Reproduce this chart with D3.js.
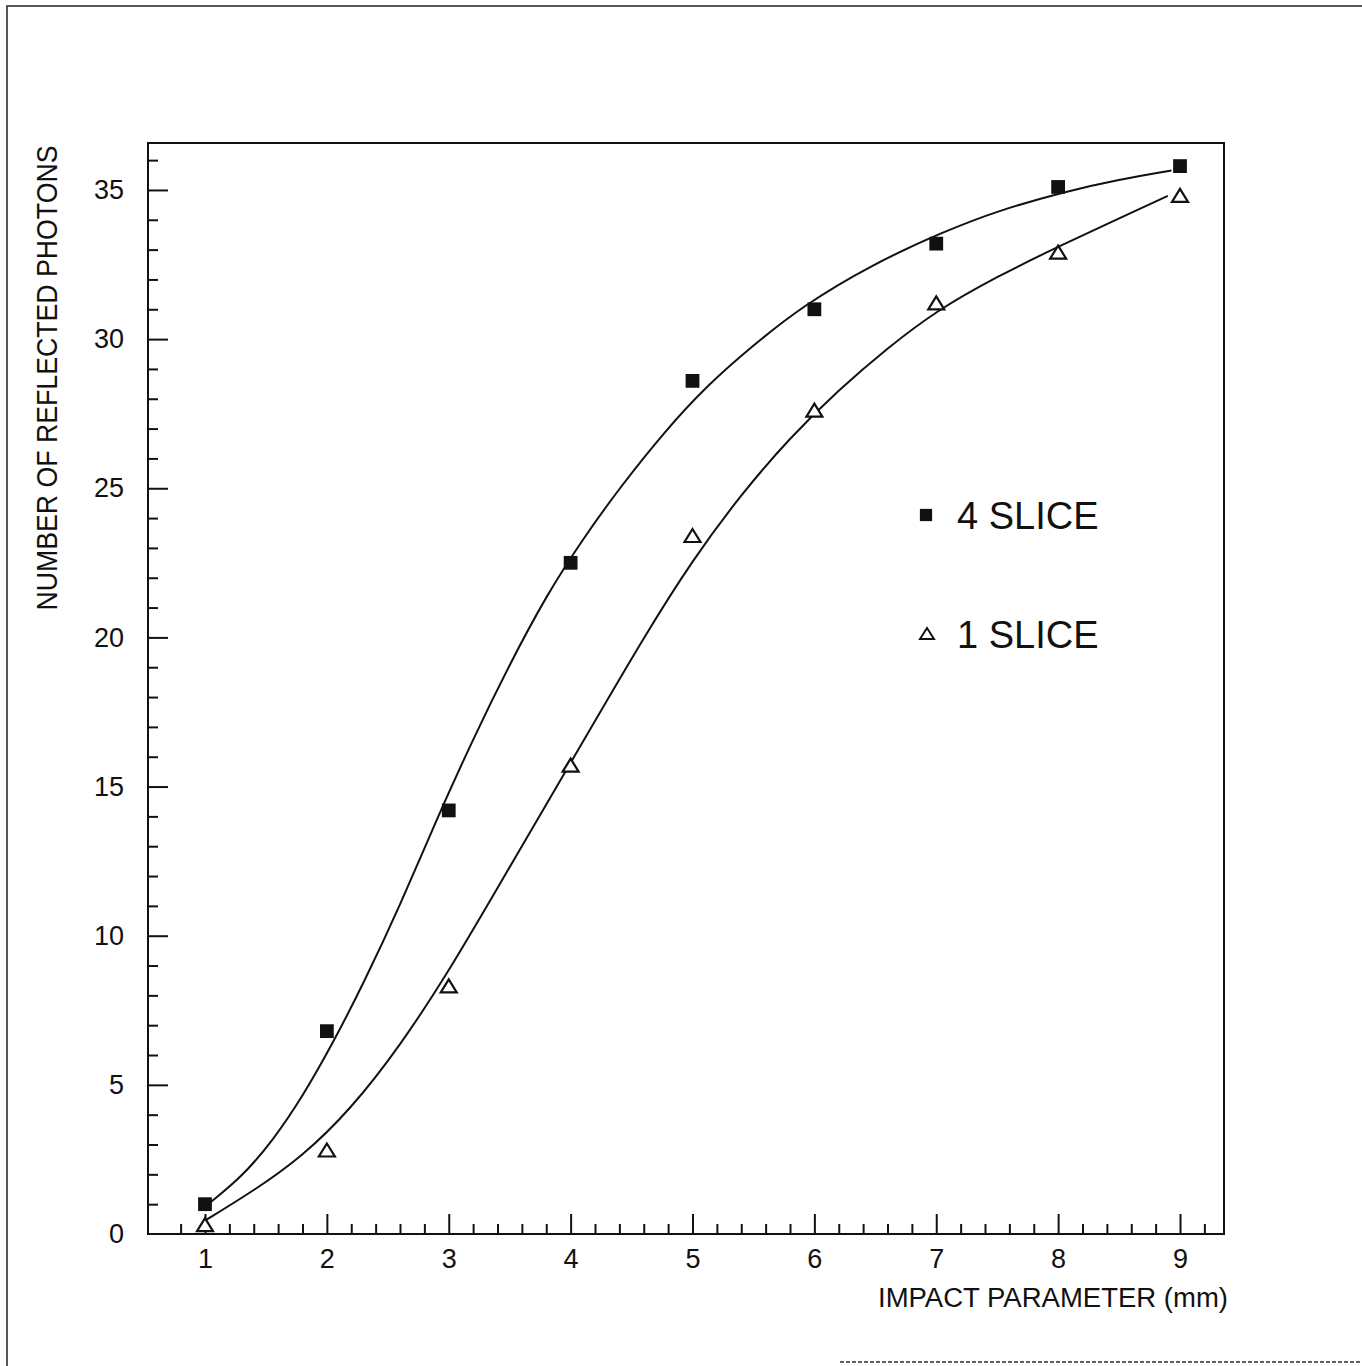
<!DOCTYPE html>
<meta charset="utf-8">
<style>
body { margin: 0; background: #fff; }
text { font-family: "Liberation Sans", Arial, sans-serif; fill: #111; }
.frame { fill: none; stroke: #111; stroke-width: 2; }
.fit { fill: none; stroke: #111; stroke-width: 2; }
.tick line { stroke: #111; stroke-width: 2; }
</style>
<svg width="1362" height="1366"></svg>
<script src="https://d3js.org/d3.v7.min.js"></script>
<script>

// measured points (impact parameter in mm)
var impact = [1, 2, 3, 4, 5, 6, 7, 8, 9];
var slice4 = [1.0, 6.8, 14.2, 22.5, 28.6, 31.0, 33.2, 35.1, 35.8];
var slice1 = [0.3, 2.8, 8.3, 15.7, 23.4, 27.6, 31.2, 32.9, 34.8];

// fitted curves
var fit4x = [1.04, 1.3, 1.56, 1.8, 2.05, 2.3, 2.6, 2.9, 3.2, 3.5, 3.8, 4.1, 4.4, 4.76, 5.12, 5.5, 5.9, 6.47, 7.06, 7.5, 8.06, 8.5, 8.93];
var fit4y = [1.05, 1.9, 3.15, 4.6, 6.4, 8.4, 11.0, 13.9, 16.6, 19.1, 21.4, 23.3, 25.0, 26.85, 28.45, 29.8, 31.1, 32.5, 33.6, 34.3, 34.95, 35.35, 35.65];
var fit1x = [1.0, 1.4, 1.8, 2.2, 2.6, 3.0, 3.4, 3.8, 4.2, 4.6, 5.0, 5.4, 5.8, 6.2, 6.6, 7.0, 7.5, 8.0, 8.5, 8.9];
var fit1y = [0.45, 1.45, 2.6, 4.2, 6.3, 8.8, 11.6, 14.4, 17.2, 20.0, 22.6, 24.8, 26.7, 28.3, 29.7, 30.95, 32.1, 33.1, 34.05, 34.8];

var xMajor = [1, 2, 3, 4, 5, 6, 7, 8, 9];
var yMajor = [0, 5, 10, 15, 20, 25, 30, 35];
var legendNames = ["4 SLICE", "1 SLICE"];

var svg = d3.select("svg");

// page border from the scan
svg.append("path")
    .attr("d", "M7,1366V6H1362")
    .attr("fill", "none")
    .attr("stroke", "#222")
    .attr("stroke-width", 1.5);
svg.append("path")
    .attr("d", "M840,1362H1362")
    .attr("fill", "none")
    .attr("stroke", "#333")
    .attr("stroke-width", 1.5)
    .attr("stroke-dasharray", "4,2");

var plotL = 148, plotR = 1224, plotT = 143, plotB = 1234;

var x = d3.scaleLinear()
    .domain([1 - (205 - plotL) / 121.9, 9 + (plotR - 1180) / 121.9])
    .range([plotL, plotR]);

var y = d3.scaleLinear()
    .domain([0, (plotB - plotT) / 29.83])
    .range([plotB, plotT]);

// minor ticks
var xMinor = d3.range(0.8, 9.21, 0.2).filter(function(v) { return Math.abs(v - Math.round(v)) > 1e-6; });
var yMinor = d3.range(1, 37, 1).filter(function(v) { return v % 5 != 0; });

svg.append("g")
    .attr("transform", "translate(0," + plotB + ")")
    .call(d3.axisTop(x).tickValues(xMinor).tickSize(10).tickFormat(""))
  .select(".domain").remove();

svg.append("g")
    .attr("transform", "translate(0," + plotB + ")")
    .call(d3.axisTop(x).tickValues(xMajor).tickSize(20).tickFormat(""))
  .select(".domain").remove();

svg.append("g")
    .attr("transform", "translate(" + plotL + ",0)")
    .call(d3.axisRight(y).tickValues(yMinor).tickSize(10).tickFormat(""))
  .select(".domain").remove();

svg.append("g")
    .attr("transform", "translate(" + plotL + ",0)")
    .call(d3.axisRight(y).tickValues(yMajor.slice(1)).tickSize(20).tickFormat(""))
  .select(".domain").remove();

// tick labels
var xl = svg.append("g")
    .attr("transform", "translate(0," + plotB + ")")
    .call(d3.axisBottom(x).tickValues(xMajor).tickSize(0).tickFormat(d3.format("d")));
xl.select(".domain").remove();
xl.selectAll("text")
    .attr("y", 34)
    .attr("dy", 0)
    .attr("font-size", 27)
    .attr("font-family", null);

var yl = svg.append("g")
    .attr("transform", "translate(" + plotL + ",0)")
    .call(d3.axisLeft(y).tickValues(yMajor).tickSize(0).tickPadding(24).tickFormat(d3.format("d")));
yl.select(".domain").remove();
yl.selectAll("text")
    .attr("font-size", 27)
    .attr("font-family", null);

// frame
svg.append("rect")
    .attr("class", "frame")
    .attr("x", plotL)
    .attr("y", plotT)
    .attr("width", plotR - plotL)
    .attr("height", plotB - plotT);

// fitted curves
var line = d3.line()
    .x(function(d) { return x(d[0]); })
    .y(function(d) { return y(d[1]); })
    .curve(d3.curveBasis);

svg.append("path")
    .attr("class", "fit")
    .attr("d", line(d3.zip(fit4x, fit4y)));

svg.append("path")
    .attr("class", "fit")
    .attr("d", line(d3.zip(fit1x, fit1y)));

// markers
var square = d3.symbol().type(d3.symbolSquare).size(190);
var triangle = "M0,-7L8,6H-8Z";

svg.append("g")
  .selectAll("path")
  .data(d3.zip(impact, slice4))
  .enter().append("path")
    .attr("d", square)
    .attr("transform", function(d) { return "translate(" + x(d[0]) + "," + y(d[1]) + ")"; })
    .attr("fill", "#111");

svg.append("g")
  .selectAll("path")
  .data(d3.zip(impact, slice1))
  .enter().append("path")
    .attr("d", triangle)
    .attr("transform", function(d) { return "translate(" + x(d[0]) + "," + y(d[1]) + ")"; })
    .attr("fill", "#fff")
    .attr("stroke", "#111")
    .attr("stroke-width", 2.2);

// legend
var lg = svg.append("g").attr("transform", "translate(926,515)");
lg.append("path")
    .attr("d", d3.symbol().type(d3.symbolSquare).size(150))
    .attr("fill", "#111");
lg.append("text")
    .attr("x", 31)
    .attr("y", 14)
    .attr("font-size", 38)
    .text(legendNames[0]);

var lg2 = svg.append("g").attr("transform", "translate(927,634)");
lg2.append("path")
    .attr("d", "M0,-6L7,5H-7Z")
    .attr("fill", "#fff")
    .attr("stroke", "#111")
    .attr("stroke-width", 2);
lg2.append("text")
    .attr("x", 30)
    .attr("y", 14)
    .attr("font-size", 38)
    .text(legendNames[1]);

// axis titles
svg.append("text")
    .attr("x", 1228)
    .attr("y", 1307)
    .attr("text-anchor", "end")
    .attr("font-size", 27)
    .attr("textLength", 350)
    .attr("lengthAdjust", "spacingAndGlyphs")
    .text("IMPACT PARAMETER (mm)");

svg.append("text")
    .attr("transform", "translate(57,378) rotate(-90)")
    .attr("text-anchor", "middle")
    .attr("font-size", 29)
    .attr("textLength", 465)
    .attr("lengthAdjust", "spacingAndGlyphs")
    .text("NUMBER OF REFLECTED PHOTONS");

</script>
